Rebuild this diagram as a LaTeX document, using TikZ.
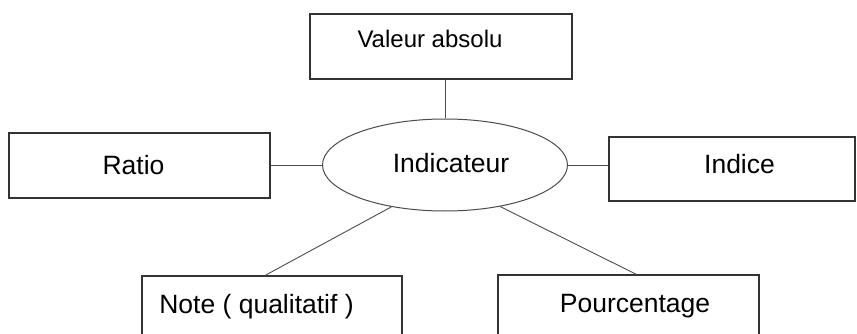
\documentclass[tikz,border=0pt]{standalone}
\usepackage{fontspec}
\setmainfont{Liberation Sans}
\usetikzlibrary{shapes.geometric}
\begin{document}
\begin{tikzpicture}[x=1pt,y=-1pt,
  box/.style={draw=black!80, line width=1.1pt, rectangle, minimum width=261pt, minimum height=65pt, inner sep=0pt, fill=white},
  txt/.style={font=\fontsize{26.5}{30}\selectfont, text=black, inner sep=0pt},
  smalltxt/.style={font=\fontsize{24}{28}\selectfont, text=black, inner sep=0pt},
  conn/.style={draw=black!70, line width=0.9pt}]
\useasboundingbox (0,0) rectangle (857,334);
\clip (0,0) rectangle (857,334);
\fill[white] (0,0) rectangle (857,334);
\node[box, minimum width=262pt, label={[smalltxt, xshift=-11pt, yshift=8pt]center:Valeur absolu}] (valeur) at (441,46.5) {};
\node[box, minimum width=261pt, label={[txt, xshift=-6pt]center:Ratio}] (ratio) at (139.5,165.5) {};
\node[box, minimum width=246pt, minimum height=64pt, label={[txt, xshift=7.5pt, yshift=4.5pt]center:Indice}] (indice) at (732,169) {};
\node[box, minimum width=260pt, label={[txt, xshift=-15.5pt, yshift=2pt]center:Note ( qualitatif )}] (note) at (272,308.5) {};
\node[box, minimum width=261pt, label={[txt, xshift=6.5pt, yshift=1pt]center:Pourcentage}] (pct) at (628.5,307.5) {};
\node[ellipse, draw=black!70, line width=1pt, minimum width=245pt, minimum height=92pt, inner sep=0pt, label={[txt, xshift=6pt, yshift=2pt]center:Indicateur}] (ind) at (445,165) {};
\draw[conn] (ind.north) -- (ind.north |- valeur.south);
\draw[conn] (ind.west) -- (ind.west -| ratio.east);
\draw[conn] (ind.east) -- (ind.east -| indice.west);
\draw[conn] (ind.218.7) -- ([xshift=-7pt]note.north);
\draw[conn] (ind.323.5) -- ([xshift=8pt]pct.north);
\end{tikzpicture}
\end{document}
